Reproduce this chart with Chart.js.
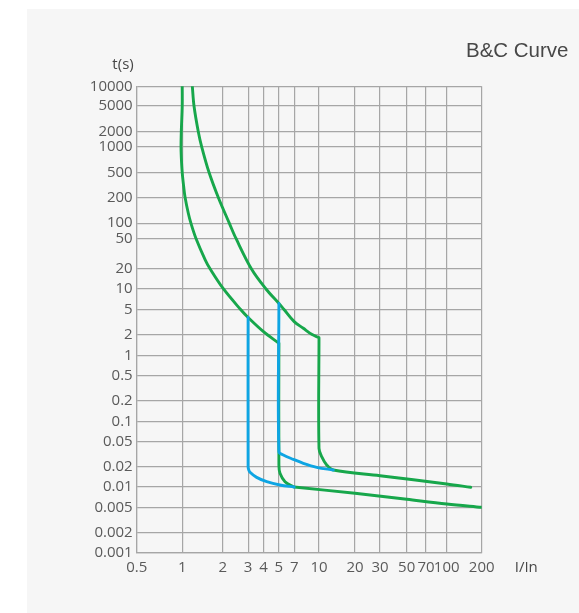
<!DOCTYPE html>
<html>
<head>
<meta charset="utf-8">
<script src="https://cdn.jsdelivr.net/npm/chart.js@4/dist/chart.umd.min.js"></script>
<style>
  html, body { margin: 0; padding: 0; background: #ffffff; }
  #wrap { position: relative; width: 579px; height: 613px; overflow: hidden; }
  #panel { position: absolute; left: 27px; top: 9px; right: 0; bottom: 0; background: #f6f6f6; }
  #c { position: absolute; left: 0; top: 0; }
</style>
</head>
<body>
<div id="wrap"><div id="panel"></div><canvas id="c" width="579" height="613"></canvas></div>
<script>
// ---------- tick labels ----------
const X_TICKS = [0.5, 1, 2, 3, 4, 5, 7, 10, 20, 30, 50, 70, 100, 200];
const X_TICK_LABELS = ['0.5', '1', '2', '3', '4', '5', '7', '10', '20', '30', '50', '70', '100', '200'];
const Y_TICKS = [0.001, 0.002, 0.005, 0.01, 0.02, 0.05, 0.1, 0.2, 0.5, 1, 2, 5, 10, 20, 50, 100, 200, 500, 1000, 2000, 5000, 10000];
const Y_TICK_LABELS = ['0.001', '0.002', '0.005', '0.01', '0.02', '0.05', '0.1', '0.2', '0.5', '1', '2', '5', '10', '20', '50', '100', '200', '500', '1000', '2000', '5000', '10000'];

// ---------- series (I/In, t in s); sharp corners are listed twice ----------
// C curve lower boundary (green)
const C_LOW_X = [1.0, 1.0, 0.986, 0.982, 0.986, 1.0, 1.026, 1.051, 1.110, 1.161, 1.266, 1.485, 1.615, 2.026, 2.653, 3.0, 4.0, 5.0, 5.0, 5.0, 5.12, 5.72, 6.86, 7, 20, 50, 100, 200];
const C_LOW_Y = [10000, 5000, 2000, 1000, 764, 500, 296, 200, 130.6, 100, 50, 26.2, 20, 10, 5, 3.72, 2.23, 1.5, 1.5, 0.021, 0.016, 0.012, 0.0101, 0.01, 0.00807, 0.00657, 0.0056, 0.005];
// C curve upper boundary (green)
const C_UP_X = [1.189, 1.224, 1.317, 1.396, 1.582, 1.855, 2.222, 2.473, 3.197, 4.148, 5.0, 5.569, 7.0, 7.98, 9.0, 10, 10, 10, 10.53, 11.6, 13.17, 30, 100, 161];
const C_UP_Y = [10000, 5000, 2000, 1000, 500, 200, 100, 50, 20, 10, 6.09, 5, 3.2, 2.52, 2.03, 1.81, 1.81, 0.0388, 0.0287, 0.0213, 0.01786, 0.0147, 0.0111, 0.0099];
// B curve lower boundary (blue)
const B_LOW_X = [3, 3, 3.03, 3.11, 3.52, 4.19, 5.12, 7];
const B_LOW_Y = [3.72, 0.02, 0.0182, 0.0165, 0.0139, 0.012, 0.0107, 0.01];
// B curve upper boundary (blue)
const B_UP_X = [5, 5, 5.51, 6.86, 7.98, 9.68, 13.17];
const B_UP_Y = [6.09, 0.0344, 0.0305, 0.0261, 0.0226, 0.0196, 0.01786];

// ---------- axis spacing (the printed scale is not an exact log scale) ----------
const AXIS_SPACING = {
  x: { values: X_TICKS, fractions: [0, 0.1319, 0.2493, 0.3229, 0.3675, 0.4122, 0.4565, 0.5284, 0.6328, 0.7052, 0.7826, 0.8386, 0.8986, 1] },
  y: { values: Y_TICKS, fractions: [0, 0.0435, 0.0979, 0.1414, 0.1849, 0.2393, 0.2822, 0.3257, 0.3799, 0.4236, 0.4678, 0.5222, 0.5657, 0.6085, 0.6739, 0.7067, 0.7617, 0.8157, 0.8704, 0.9027, 0.9578, 1] }
};

function warp(sp, v) {
  const lv = Math.log10(v), vs = sp.values, fs = sp.fractions;
  let i = 0;
  while (i < vs.length - 2 && lv > Math.log10(vs[i + 1])) i++;
  const l0 = Math.log10(vs[i]), l1 = Math.log10(vs[i + 1]);
  return fs[i] + (lv - l0) / (l1 - l0) * (fs[i + 1] - fs[i]);
}
function unwarp(sp, d) {
  const vs = sp.values, fs = sp.fractions;
  let i = 0;
  while (i < fs.length - 2 && d > fs[i + 1]) i++;
  const l0 = Math.log10(vs[i]), l1 = Math.log10(vs[i + 1]);
  return Math.pow(10, l0 + (d - fs[i]) / (fs[i + 1] - fs[i]) * (l1 - l0));
}

const BaseLog = Chart.LogarithmicScale || Chart.registry.getScale('logarithmic');
class SpacedLogScale extends BaseLog {
  getPixelForValue(value) {
    if (value === undefined || value === null || isNaN(value) || value <= 0) return NaN;
    return this.getPixelForDecimal(warp(AXIS_SPACING[this.axis], value));
  }
  getValueForPixel(pixel) {
    return unwarp(AXIS_SPACING[this.axis], this.getDecimalForPixel(pixel));
  }
}
SpacedLogScale.id = 'spacedlog';
SpacedLogScale.defaults = BaseLog.defaults;
Chart.register(SpacedLogScale);

function pts(xs, ys) { return xs.map((x, i) => ({ x: x, y: ys[i] })); }

const GREEN = '#17a74b';
const BLUE = '#0ea5e3';
const GRID = '#a6a6a6';
const TICK_FONT = { family: '"Open Sans"', size: 15 };

const textPlugin = {
  id: 'texts',
  afterDraw(chart) {
    const ctx = chart.ctx, a = chart.chartArea;
    ctx.save();
    ctx.fillStyle = '#474747';
    ctx.font = '15px "Open Sans"';
    ctx.textBaseline = 'middle';
    ctx.textAlign = 'right';
    ctx.fillText('t(s)', a.left - 3, a.top - 22);
    ctx.textAlign = 'left';
    ctx.fillText('I/In', a.right + 33, a.bottom + 14.5);
    ctx.font = '20.5px "Liberation Sans"';
    ctx.fillStyle = '#474747';
    ctx.textAlign = 'right';
    ctx.fillText('B&C Curve', 568.5, 51);
    ctx.restore();
  }
};

const lineStyle = { showLine: true, pointRadius: 0, pointHoverRadius: 0, borderWidth: 2.9, tension: 0.35, fill: false, borderJoinStyle: 'round', borderCapStyle: 'round' };

new Chart(document.getElementById('c'), {
  type: 'scatter',
  data: {
    datasets: [
      Object.assign({ label: 'B lower', data: pts(B_LOW_X, B_LOW_Y), borderColor: BLUE, backgroundColor: BLUE, order: 0 }, lineStyle),
      Object.assign({ label: 'B upper', data: pts(B_UP_X, B_UP_Y), borderColor: BLUE, backgroundColor: BLUE, order: 1 }, lineStyle),
      Object.assign({ label: 'C lower', data: pts(C_LOW_X, C_LOW_Y), borderColor: GREEN, backgroundColor: GREEN, order: 2 }, lineStyle),
      Object.assign({ label: 'C upper', data: pts(C_UP_X, C_UP_Y), borderColor: GREEN, backgroundColor: GREEN, order: 3 }, lineStyle)
    ]
  },
  options: {
    responsive: false,
    animation: false,
    events: [],
    layout: { padding: { left: 0, top: 86.3, right: 97.3, bottom: 30 } },
    plugins: { legend: { display: false }, tooltip: { enabled: false }, title: { display: false } },
    scales: {
      x: {
        type: 'spacedlog',
        min: 0.5, max: 200,
        afterBuildTicks: s => { s.ticks = X_TICKS.map(v => ({ value: v })); },
        afterFit: s => { s.height = 30; },
        grid: { color: GRID, lineWidth: 1.2, drawTicks: false },
        border: { color: GRID, width: 1.2 },
        ticks: { autoSkip: false, maxRotation: 0, padding: 6, color: '#5a5a5a', font: TICK_FONT,
                 callback: (v, i) => X_TICK_LABELS[i] }
      },
      y: {
        type: 'spacedlog',
        min: 0.001, max: 10000,
        afterBuildTicks: s => { s.ticks = Y_TICKS.map(v => ({ value: v })); },
        afterFit: s => { s.width = 136.7; },
        grid: { color: GRID, lineWidth: 1.2, drawTicks: false },
        border: { color: GRID, width: 1.2 },
        ticks: { autoSkip: false, padding: 4, color: '#5a5a5a', font: TICK_FONT,
                 callback: (v, i) => Y_TICK_LABELS[i] }
      }
    }
  },
  plugins: [textPlugin]
});
</script>
</body>
</html>
